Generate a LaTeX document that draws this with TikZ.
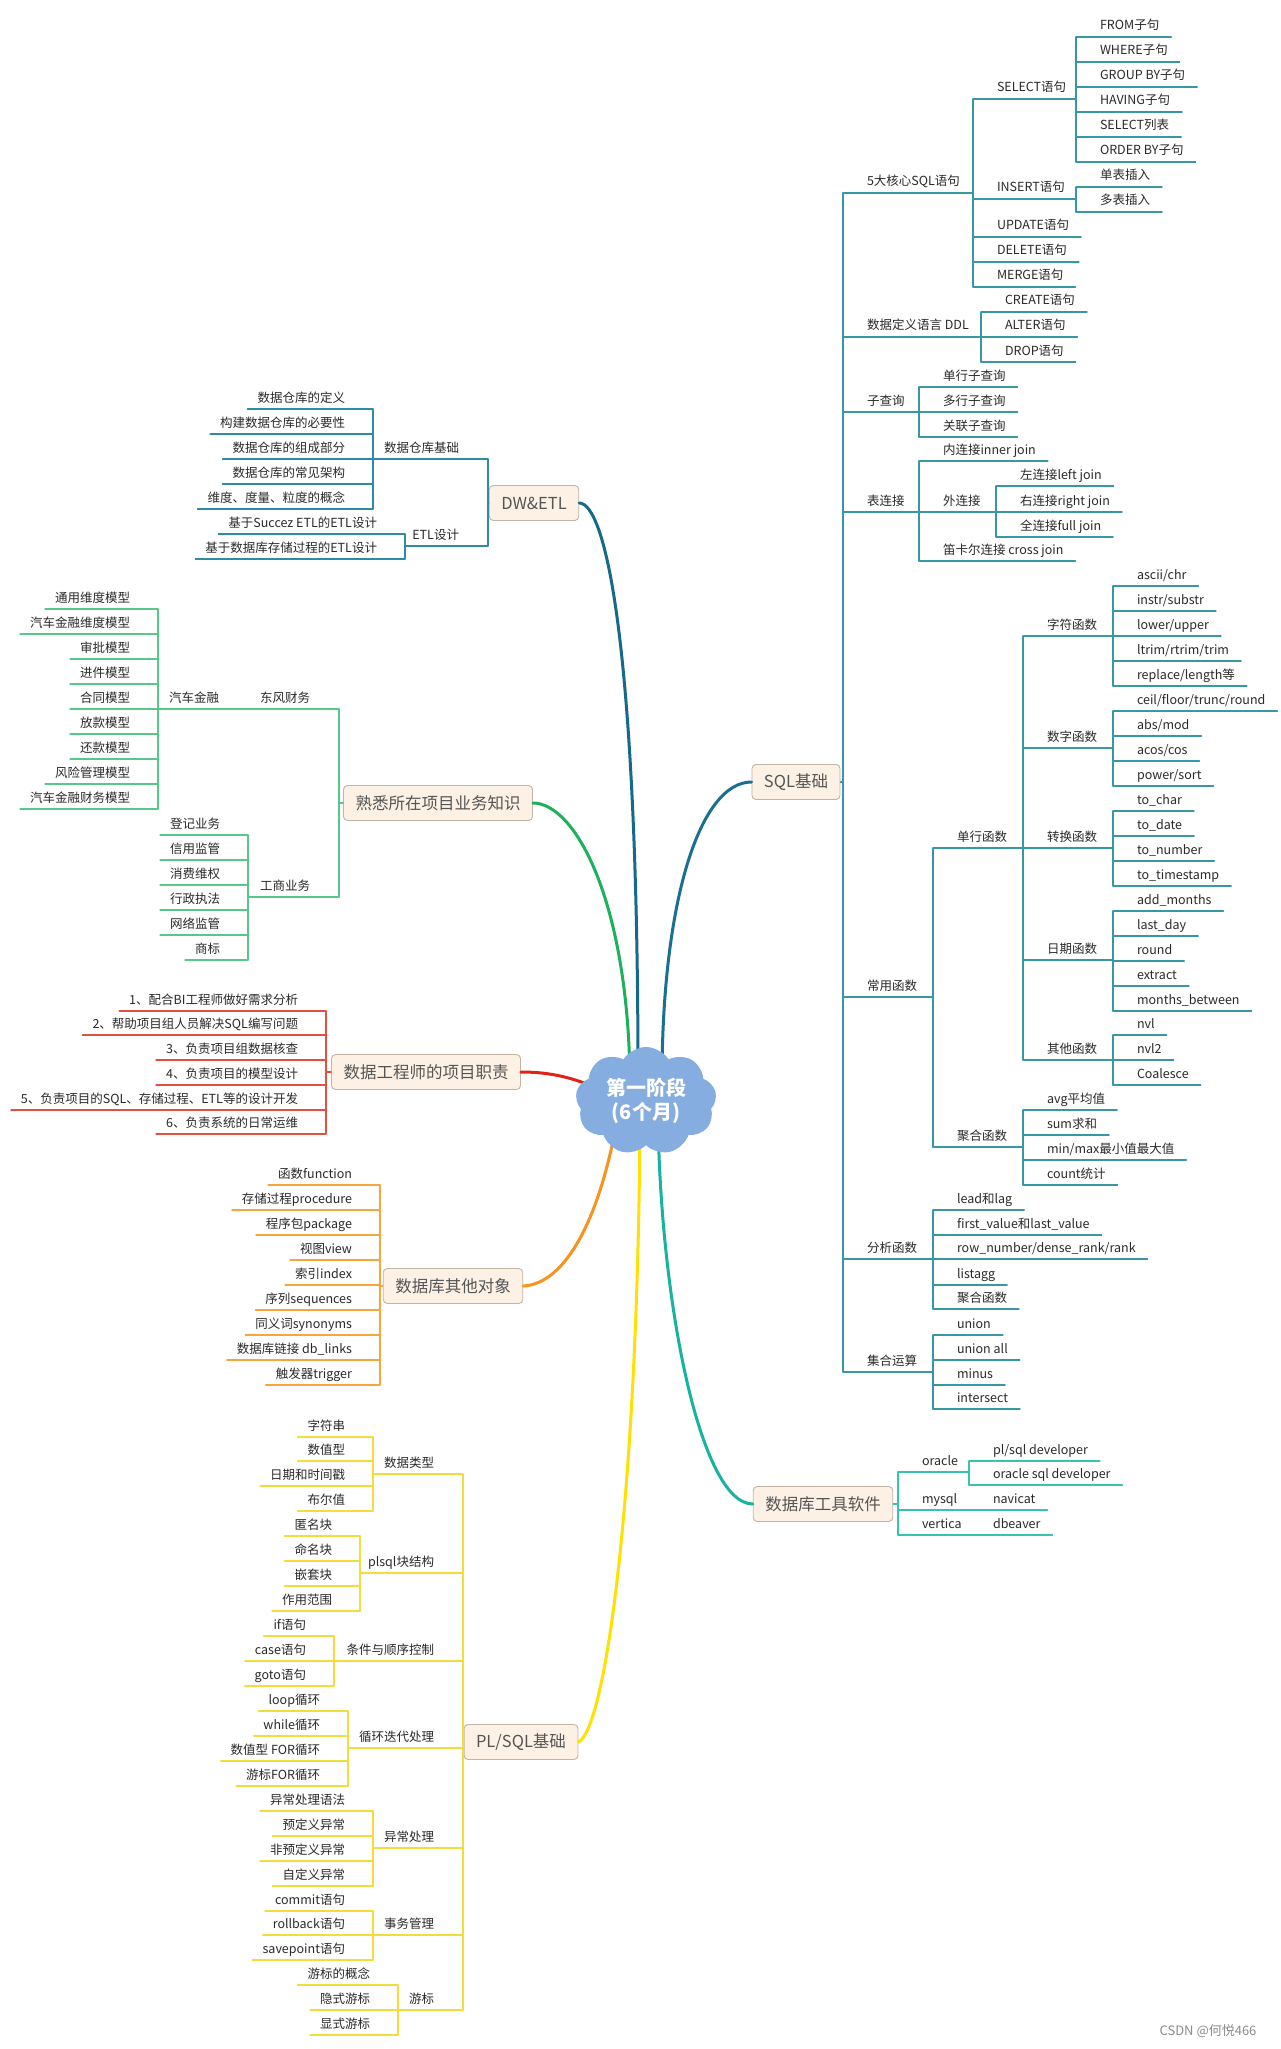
\documentclass[tikz,border=0pt]{standalone}
\usepackage{fontspec}
\setmainfont{Noto Sans CJK SC}
\usetikzlibrary{shapes.symbols}
\definecolor{sqc}{HTML}{3797A6}
\definecolor{dwc}{HTML}{2F8AA3}
\definecolor{fmc}{HTML}{56C98A}
\definecolor{enc}{HTML}{E4503F}
\definecolor{otc}{HTML}{F6A63C}
\definecolor{plc}{HTML}{F3DC3C}
\definecolor{tlc}{HTML}{38C2B2}
\definecolor{dwcv}{HTML}{17698A}
\definecolor{sqcv}{HTML}{1A7090}
\definecolor{fmcv}{HTML}{1DB15C}
\definecolor{encv}{HTML}{E1221B}
\definecolor{otcv}{HTML}{F7931E}
\definecolor{plcv}{HTML}{FDE100}
\definecolor{tlcv}{HTML}{18B3A0}
\definecolor{cloudc}{HTML}{85ADE0}
\definecolor{boxfill}{HTML}{FDF1E6}
\definecolor{boxline}{HTML}{C4B4A4}
\definecolor{topicc}{HTML}{555555}
\definecolor{leafc}{HTML}{2A2A2A}
\newcommand\Rleaf[5]{\node[leaf,anchor=base west] (#1) at (#3+24,#4-7) {#5};
  \draw[#2] (#3,#4) -- ([xshift=12pt,yshift=-7pt]#1.base east);}
\newcommand\Rpar[6]{\node[leaf,anchor=base west] (#1) at (#3+24,#4-7) {#5};
  \draw[#2] (#3,#4) -- (#6,#4);}
\newcommand\Lleaf[5]{\node[leaf,anchor=base east] (#1) at (#3-28,#4-7) {#5};
  \draw[#2] (#3,#4) -- ([xshift=-10pt,yshift=-7pt]#1.base west);}
\newcommand\Lpar[6]{\node[leaf,anchor=base east] (#1) at (#3-29,#4-7) {#5};
  \draw[#2] (#3,#4) -- (#6,#4);}
\newcommand\Vbar[4]{\draw[#1] (#2,#3) -- (#2,#4);}
\begin{document}
\begin{tikzpicture}[x=1pt,y=-1pt,
  leaf/.style={inner sep=0pt,outer sep=0pt,font=\fontsize{12.5}{14}\selectfont,text=leafc},
  topic/.style={draw=boxline,fill=boxfill,rounded corners=4pt,line width=0.9pt,
    font=\fontsize{16.5}{19}\selectfont,text=topicc,inner xsep=12pt,minimum height=35pt},
  br/.style={line width=1.3pt,line cap=round},
  sq/.style={br,draw=sqc}, dw/.style={br,draw=dwc}, fm/.style={br,draw=fmc},
  en/.style={br,draw=enc}, ot/.style={br,draw=otc}, pq/.style={br,draw=plc},
  tl/.style={br,draw=tlc},
  curve/.style={line width=3pt,line cap=round}]
\fill[white] (0,0) rectangle (1280,2049);
\useasboundingbox (0,0) rectangle (1280,2049);

% ---------- main topics ----------
\node[topic] (dw) at (534,503) {DW\&ETL};
\node[topic] (sql) at (796,782) {SQL基础};
\node[topic] (fam) at (438,803) {熟悉所在项目业务知识};
\node[topic] (eng) at (426,1072) {数据工程师的项目职责};
\node[topic] (oth) at (453,1286) {数据库其他对象};
\node[topic] (pls) at (521,1742) {PL/SQL基础};
\node[topic] (tool) at (823,1504) {数据库工具软件};

% ---------- curves to centre ----------
\coordinate (kDw) at (638,1080);
\coordinate (kSq) at (662,1080);
\coordinate (kFm) at (630,1080);
\coordinate (kEn) at (620,1098);
\coordinate (kOt) at (618,1115);
\coordinate (kPl) at (640,1115);
\coordinate (kTl) at (658,1115);
\draw[curve,draw=dwcv] (dw.east) .. controls (605,503) and (638,640) .. (kDw);
\draw[curve,draw=sqcv] (kSq) .. controls (662,900) and (700,782) .. (sql.west);
\draw[curve,draw=fmcv] (fam.east) .. controls (575,803) and (628,900) .. (kFm);
\draw[curve,draw=encv] (eng.east) .. controls (560,1072) and (585,1082) .. (kEn);
\draw[curve,draw=otcv] (oth.east) .. controls (565,1284) and (600,1220) .. (kOt);
\draw[curve,draw=plcv] (pls.east) .. controls (605,1730) and (638,1500) .. (kPl);
\draw[curve,draw=tlcv] (kTl) .. controls (660,1300) and (700,1504) .. (tool.west);

\node[cloud,cloud puffs=9,cloud puff arc=115,aspect=1.25,fill=cloudc,
  minimum width=141pt,minimum height=108pt,inner sep=0pt,align=center,text=white,
  font=\fontsize{20}{24}\selectfont\bfseries] (center) at (646,1101) {第一阶段\\(6个月)};

% ---------- SQL基础 ----------
\draw[sq] (sql.east) -- (843,782);
\Vbar{sq}{843}{193}{1372}
\Rpar{c5}{sq}{843}{193}{5大核心SQL语句}{973}
\Rpar{ddl}{sq}{843}{337}{数据定义语言 DDL}{981}
\Rpar{subq}{sq}{843}{412}{子查询}{919}
\Rpar{tjoin}{sq}{843}{512}{表连接}{919}
\Rpar{cyfn}{sq}{843}{997}{常用函数}{933}
\Rpar{anal}{sq}{843}{1259}{分析函数}{933}
\Rpar{setop}{sq}{843}{1372}{集合运算}{933}

\Vbar{sq}{973}{99}{287}
\Rpar{sel}{sq}{973}{99}{SELECT语句}{1076}
\Rpar{ins}{sq}{973}{199}{INSERT语句}{1076}
\Rleaf{upd}{sq}{973}{237}{UPDATE语句}
\Rleaf{del}{sq}{973}{262}{DELETE语句}
\Rleaf{mrg}{sq}{973}{287}{MERGE语句}

\Vbar{sq}{1076}{37}{162}
\Rleaf{s1}{sq}{1076}{37}{FROM子句}
\Rleaf{s2}{sq}{1076}{62}{WHERE子句}
\Rleaf{s3}{sq}{1076}{87}{GROUP BY子句}
\Rleaf{s4}{sq}{1076}{112}{HAVING子句}
\Rleaf{s5}{sq}{1076}{137}{SELECT列表}
\Rleaf{s6}{sq}{1076}{162}{ORDER BY子句}

\Vbar{sq}{1076}{187}{212}
\Rleaf{i1}{sq}{1076}{187}{单表插入}
\Rleaf{i2}{sq}{1076}{212}{多表插入}

\Vbar{sq}{981}{312}{362}
\Rleaf{d1}{sq}{981}{312}{CREATE语句}
\Rleaf{d2}{sq}{981}{337}{ALTER语句}
\Rleaf{d3}{sq}{981}{362}{DROP语句}

\Vbar{sq}{919}{387}{437}
\Rleaf{q1}{sq}{919}{387}{单行子查询}
\Rleaf{q2}{sq}{919}{412}{多行子查询}
\Rleaf{q3}{sq}{919}{437}{关联子查询}

\Vbar{sq}{919}{461}{561}
\Rleaf{j1}{sq}{919}{461}{内连接inner join}
\Rpar{j2}{sq}{919}{512}{外连接}{996}
\Rleaf{j3}{sq}{919}{561}{笛卡尔连接 cross join}
\Vbar{sq}{996}{486}{537}
\Rleaf{o1}{sq}{996}{486}{左连接left join}
\Rleaf{o2}{sq}{996}{512}{右连接right join}
\Rleaf{o3}{sq}{996}{537}{全连接full join}

\Vbar{sq}{933}{848}{1147}
\Rpar{dhfn}{sq}{933}{848}{单行函数}{1023}
\Rpar{jhfn}{sq}{933}{1147}{聚合函数}{1023}

\Vbar{sq}{1023}{636}{1060}
\Rpar{zf}{sq}{1023}{636}{字符函数}{1113}
\Rpar{sz}{sq}{1023}{748}{数字函数}{1113}
\Rpar{zh}{sq}{1023}{848}{转换函数}{1113}
\Rpar{rq}{sq}{1023}{960}{日期函数}{1113}
\Rpar{qt}{sq}{1023}{1060}{其他函数}{1113}

\Vbar{sq}{1113}{586}{686}
\Rleaf{zf1}{sq}{1113}{586}{ascii/chr}
\Rleaf{zf2}{sq}{1113}{611}{instr/substr}
\Rleaf{zf3}{sq}{1113}{636}{lower/upper}
\Rleaf{zf4}{sq}{1113}{661}{ltrim/rtrim/trim}
\Rleaf{zf5}{sq}{1113}{686}{replace/length等}

\Vbar{sq}{1113}{711}{786}
\Rleaf{sz1}{sq}{1113}{711}{ceil/floor/trunc/round}
\Rleaf{sz2}{sq}{1113}{736}{abs/mod}
\Rleaf{sz3}{sq}{1113}{761}{acos/cos}
\Rleaf{sz4}{sq}{1113}{786}{power/sort}

\Vbar{sq}{1113}{811}{886}
\Rleaf{zh1}{sq}{1113}{811}{to\_char}
\Rleaf{zh2}{sq}{1113}{836}{to\_date}
\Rleaf{zh3}{sq}{1113}{861}{to\_number}
\Rleaf{zh4}{sq}{1113}{886}{to\_timestamp}

\Vbar{sq}{1113}{911}{1011}
\Rleaf{rq1}{sq}{1113}{911}{add\_months}
\Rleaf{rq2}{sq}{1113}{936}{last\_day}
\Rleaf{rq3}{sq}{1113}{961}{round}
\Rleaf{rq4}{sq}{1113}{986}{extract}
\Rleaf{rq5}{sq}{1113}{1011}{months\_between}

\Vbar{sq}{1113}{1035}{1085}
\Rleaf{qt1}{sq}{1113}{1035}{nvl}
\Rleaf{qt2}{sq}{1113}{1060}{nvl2}
\Rleaf{qt3}{sq}{1113}{1085}{Coalesce}

\Vbar{sq}{1023}{1110}{1185}
\Rleaf{jh1}{sq}{1023}{1110}{avg平均值}
\Rleaf{jh2}{sq}{1023}{1135}{sum求和}
\Rleaf{jh3}{sq}{1023}{1160}{min/max最小值最大值}
\Rleaf{jh4}{sq}{1023}{1185}{count统计}

\Vbar{sq}{933}{1210}{1309}
\Rleaf{an1}{sq}{933}{1210}{lead和lag}
\Rleaf{an2}{sq}{933}{1235}{first\_value和last\_value}
\Rleaf{an3}{sq}{933}{1259}{row\_number/dense\_rank/rank}
\Rleaf{an4}{sq}{933}{1285}{listagg}
\Rleaf{an5}{sq}{933}{1309}{聚合函数}

\Vbar{sq}{933}{1335}{1409}
\Rleaf{st1}{sq}{933}{1335}{union}
\Rleaf{st2}{sq}{933}{1360}{union all}
\Rleaf{st3}{sq}{933}{1385}{minus}
\Rleaf{st4}{sq}{933}{1409}{intersect}

% ---------- 数据库工具软件 ----------
\draw[tl] (tool.east) -- (898,1504);
\Vbar{tl}{898}{1472}{1535}
\Rpar{ora}{tl}{898}{1472}{oracle}{969}
\Rpar{mys}{tl}{898}{1510}{mysql}{969}
\Rpar{ver}{tl}{898}{1535}{vertica}{969}
\Vbar{tl}{969}{1461}{1485}
\Rleaf{t1}{tl}{969}{1461}{pl/sql developer}
\Rleaf{t2}{tl}{969}{1485}{oracle sql developer}
\Rleaf{t3}{tl}{969}{1510}{navicat}
\Rleaf{t4}{tl}{969}{1535}{dbeaver}

% ---------- DW&ETL ----------
\draw[dw] (dw.west) -- (488,503);
\Vbar{dw}{488}{459}{546}
\Lpar{dwb}{dw}{488}{459}{数据仓库基础}{373}
\Lpar{etl}{dw}{488}{546}{ETL设计}{405}
\Vbar{dw}{373}{409}{509}
\Lleaf{w1}{dw}{373}{409}{数据仓库的定义}
\Lleaf{w2}{dw}{373}{434}{构建数据仓库的必要性}
\Lleaf{w3}{dw}{373}{459}{数据仓库的组成部分}
\Lleaf{w4}{dw}{373}{484}{数据仓库的常见架构}
\Lleaf{w5}{dw}{373}{509}{维度、度量、粒度的概念}
\Vbar{dw}{405}{534}{559}
\Lleaf{e1}{dw}{405}{534}{基于Succez ETL的ETL设计}
\Lleaf{e2}{dw}{405}{559}{基于数据库存储过程的ETL设计}

% ---------- 熟悉所在项目业务知识 ----------
\draw[fm] (fam.west) -- (339,803);
\Vbar{fm}{339}{709}{897}
\Lpar{dfcw}{fm}{339}{709}{东风财务}{248}
\Lpar{qcjr}{fm}{248}{709}{汽车金融}{158}
\Lpar{gsyw}{fm}{339}{897}{工商业务}{248}
\Vbar{fm}{158}{609}{809}
\Lleaf{m1}{fm}{158}{609}{通用维度模型}
\Lleaf{m2}{fm}{158}{634}{汽车金融维度模型}
\Lleaf{m3}{fm}{158}{659}{审批模型}
\Lleaf{m4}{fm}{158}{684}{进件模型}
\Lleaf{m5}{fm}{158}{709}{合同模型}
\Lleaf{m6}{fm}{158}{734}{放款模型}
\Lleaf{m7}{fm}{158}{759}{还款模型}
\Lleaf{m8}{fm}{158}{784}{风险管理模型}
\Lleaf{m9}{fm}{158}{809}{汽车金融财务模型}
\Vbar{fm}{248}{835}{960}
\Lleaf{g1}{fm}{248}{835}{登记业务}
\Lleaf{g2}{fm}{248}{860}{信用监管}
\Lleaf{g3}{fm}{248}{885}{消费维权}
\Lleaf{g4}{fm}{248}{910}{行政执法}
\Lleaf{g5}{fm}{248}{935}{网络监管}
\Lleaf{g6}{fm}{248}{960}{商标}

% ---------- 数据工程师的项目职责 ----------
\draw[en] (eng.west) -- (326,1072);
\Vbar{en}{326}{1011}{1134}
\Lleaf{r1}{en}{326}{1011}{1、配合BI工程师做好需求分析}
\Lleaf{r2}{en}{326}{1035}{2、帮助项目组人员解决SQL编写问题}
\Lleaf{r3}{en}{326}{1060}{3、负责项目组数据核查}
\Lleaf{r4}{en}{326}{1085}{4、负责项目的模型设计}
\Lleaf{r5}{en}{326}{1110}{5、负责项目的SQL、存储过程、ETL等的设计开发}
\Lleaf{r6}{en}{326}{1134}{6、负责系统的日常运维}

% ---------- 数据库其他对象 ----------
\draw[ot] (oth.west) -- (380,1286);
\Vbar{ot}{380}{1185}{1385}
\Lleaf{b1}{ot}{380}{1185}{函数function}
\Lleaf{b2}{ot}{380}{1210}{存储过程procedure}
\Lleaf{b3}{ot}{380}{1235}{程序包package}
\Lleaf{b4}{ot}{380}{1260}{视图view}
\Lleaf{b5}{ot}{380}{1285}{索引index}
\Lleaf{b6}{ot}{380}{1310}{序列sequences}
\Lleaf{b7}{ot}{380}{1335}{同义词synonyms}
\Lleaf{b8}{ot}{380}{1360}{数据库链接 db\_links}
\Lleaf{b9}{ot}{380}{1385}{触发器trigger}

% ---------- PL/SQL基础 ----------
\draw[pq] (pls.west) -- (463,1742);
\Vbar{pq}{463}{1474}{2010}
\Lpar{p1}{pq}{463}{1474}{数据类型}{373}
\Lpar{p2}{pq}{463}{1573}{plsql块结构}{360}
\Lpar{p3}{pq}{463}{1661}{条件与顺序控制}{334}
\Lpar{p4}{pq}{463}{1748}{循环迭代处理}{348}
\Lpar{p5}{pq}{463}{1848}{异常处理}{373}
\Lpar{p6}{pq}{463}{1935}{事务管理}{373}
\Lpar{p7}{pq}{463}{2010}{游标}{398}

\Vbar{pq}{373}{1437}{1511}
\Lleaf{p1a}{pq}{373}{1437}{字符串}
\Lleaf{p1b}{pq}{373}{1461}{数值型}
\Lleaf{p1c}{pq}{373}{1486}{日期和时间戳}
\Lleaf{p1d}{pq}{373}{1511}{布尔值}

\Vbar{pq}{360}{1536}{1611}
\Lleaf{p2a}{pq}{360}{1536}{匿名块}
\Lleaf{p2b}{pq}{360}{1561}{命名块}
\Lleaf{p2c}{pq}{360}{1586}{嵌套块}
\Lleaf{p2d}{pq}{360}{1611}{作用范围}

\Vbar{pq}{334}{1636}{1686}
\Lleaf{p3a}{pq}{334}{1636}{if语句}
\Lleaf{p3b}{pq}{334}{1661}{case语句}
\Lleaf{p3c}{pq}{334}{1686}{goto语句}

\Vbar{pq}{348}{1711}{1786}
\Lleaf{p4a}{pq}{348}{1711}{loop循环}
\Lleaf{p4b}{pq}{348}{1736}{while循环}
\Lleaf{p4c}{pq}{348}{1761}{数值型 FOR循环}
\Lleaf{p4d}{pq}{348}{1786}{游标FOR循环}

\Vbar{pq}{373}{1811}{1886}
\Lleaf{p5a}{pq}{373}{1811}{异常处理语法}
\Lleaf{p5b}{pq}{373}{1836}{预定义异常}
\Lleaf{p5c}{pq}{373}{1861}{非预定义异常}
\Lleaf{p5d}{pq}{373}{1886}{自定义异常}

\Vbar{pq}{373}{1911}{1960}
\Lleaf{p6a}{pq}{373}{1911}{commit语句}
\Lleaf{p6b}{pq}{373}{1935}{rollback语句}
\Lleaf{p6c}{pq}{373}{1960}{savepoint语句}

\Vbar{pq}{398}{1985}{2035}
\Lleaf{p7a}{pq}{398}{1985}{游标的概念}
\Lleaf{p7b}{pq}{398}{2010}{隐式游标}
\Lleaf{p7c}{pq}{398}{2035}{显式游标}

% watermark
\node[font=\fontsize{13}{15}\selectfont,text=black!45] (wm) at (1208,2031) {CSDN @何悦466};
\end{tikzpicture}
\end{document}
